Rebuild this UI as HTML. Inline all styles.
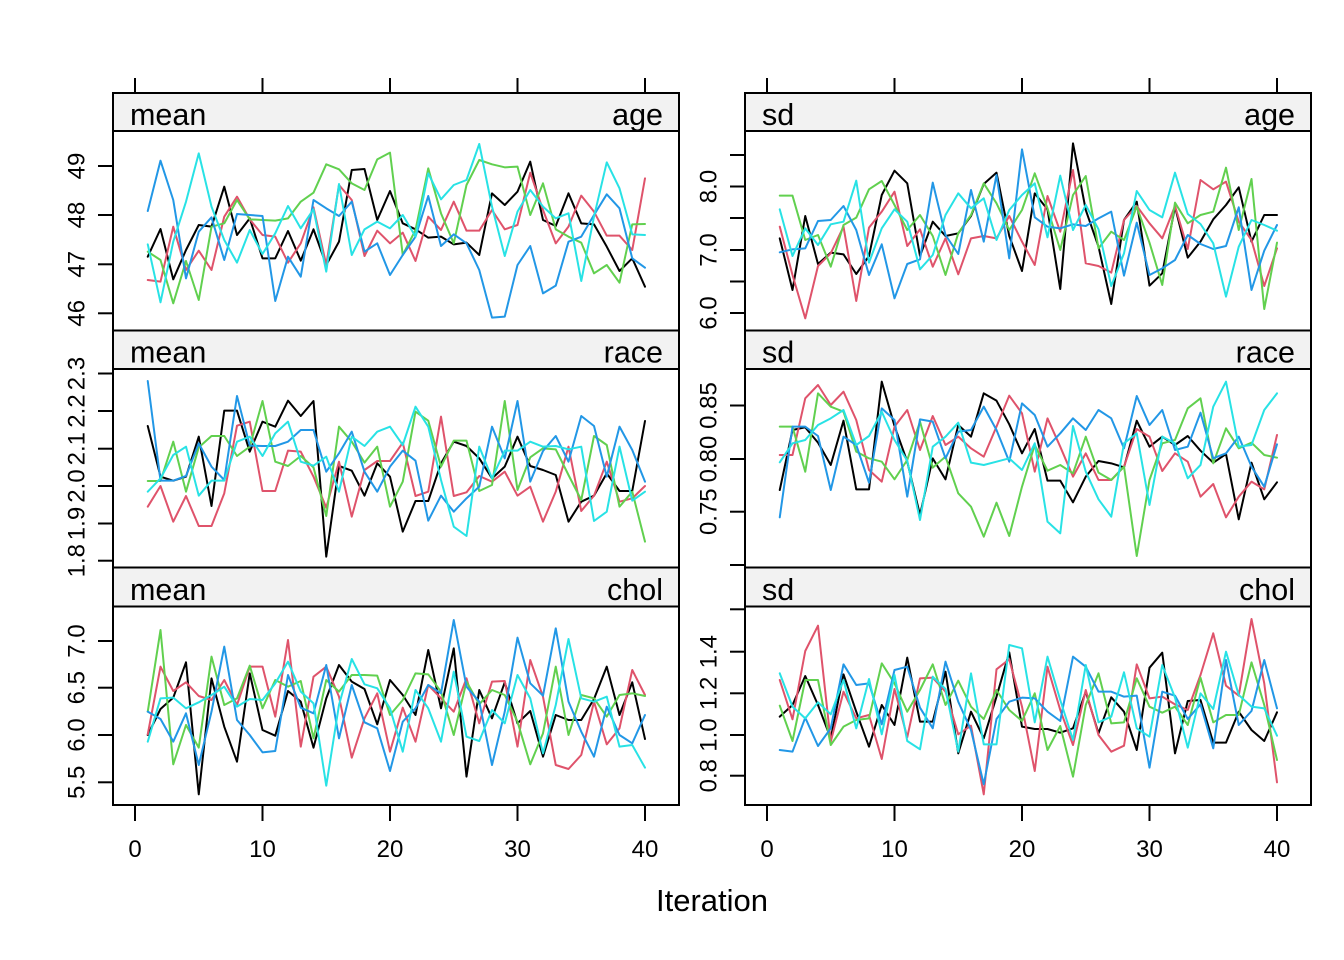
<!DOCTYPE html>
<html>
<head>
<meta charset="utf-8">
<style>
html,body{margin:0;padding:0;background:#ffffff;}
svg{display:block;}
text{font-family:"Liberation Sans",Arial,sans-serif;fill:#000;}
.s{font-size:30.5px;}
.t{font-size:24px;}
.ln{fill:none;stroke-width:2;stroke-linejoin:round;stroke-linecap:round;}
.k{stroke:#000000;}
.r{stroke:#DF536B;}
.g{stroke:#61D04F;}
.b{stroke:#2297E6;}
.c{stroke:#28E2E5;}
.fr{fill:none;stroke:#000;stroke-width:2;}
.st{fill:#F2F2F2;stroke:#000;stroke-width:2;}
.tk{stroke:#000;stroke-width:2;}
</style>
</head>
<body>
<svg width="1344" height="960" viewBox="0 0 1344 960" xmlns="http://www.w3.org/2000/svg">
<rect x="0" y="0" width="1344" height="960" fill="#fff"/>

<!-- strips -->
<rect class="st" x="113" y="93" width="566" height="38"/>
<rect class="st" x="745" y="93" width="566" height="38"/>
<rect class="st" x="113" y="330.5" width="566" height="38.5"/>
<rect class="st" x="745" y="330.5" width="566" height="38.5"/>
<rect class="st" x="113" y="567.5" width="566" height="39"/>
<rect class="st" x="745" y="567.5" width="566" height="39"/>

<text class="s" x="130" y="125">mean</text><text class="s" x="663" y="125" text-anchor="end">age</text>
<text class="s" x="762" y="125">sd</text><text class="s" x="1295" y="125" text-anchor="end">age</text>
<text class="s" x="130" y="362.5">mean</text><text class="s" x="663" y="362.5" text-anchor="end">race</text>
<text class="s" x="762" y="362.5">sd</text><text class="s" x="1295" y="362.5" text-anchor="end">race</text>
<text class="s" x="130" y="600">mean</text><text class="s" x="663" y="600" text-anchor="end">chol</text>
<text class="s" x="762" y="600">sd</text><text class="s" x="1295" y="600" text-anchor="end">chol</text>

<!-- top ticks -->
<g class="tk">
<line x1="135" y1="78" x2="135" y2="93"/><line x1="262.5" y1="78" x2="262.5" y2="93"/><line x1="390" y1="78" x2="390" y2="93"/><line x1="517.5" y1="78" x2="517.5" y2="93"/><line x1="645" y1="78" x2="645" y2="93"/>
<line x1="767" y1="78" x2="767" y2="93"/><line x1="894.5" y1="78" x2="894.5" y2="93"/><line x1="1022" y1="78" x2="1022" y2="93"/><line x1="1149.5" y1="78" x2="1149.5" y2="93"/><line x1="1277" y1="78" x2="1277" y2="93"/>
<!-- bottom ticks -->
<line x1="135" y1="805" x2="135" y2="821"/><line x1="262.5" y1="805" x2="262.5" y2="821"/><line x1="390" y1="805" x2="390" y2="821"/><line x1="517.5" y1="805" x2="517.5" y2="821"/><line x1="645" y1="805" x2="645" y2="821"/>
<line x1="767" y1="805" x2="767" y2="821"/><line x1="894.5" y1="805" x2="894.5" y2="821"/><line x1="1022" y1="805" x2="1022" y2="821"/><line x1="1149.5" y1="805" x2="1149.5" y2="821"/><line x1="1277" y1="805" x2="1277" y2="821"/>
<!-- left y ticks row1 -->
<line x1="98" y1="166" x2="113" y2="166"/><line x1="98" y1="215" x2="113" y2="215"/><line x1="98" y1="264.3" x2="113" y2="264.3"/><line x1="98" y1="313.3" x2="113" y2="313.3"/>
<!-- right y ticks row1 -->
<line x1="730" y1="155" x2="745" y2="155"/><line x1="730" y1="186.5" x2="745" y2="186.5"/><line x1="730" y1="218" x2="745" y2="218"/><line x1="730" y1="250" x2="745" y2="250"/><line x1="730" y1="281.5" x2="745" y2="281.5"/><line x1="730" y1="313" x2="745" y2="313"/>
<!-- left row2 -->
<line x1="98" y1="373.5" x2="113" y2="373.5"/><line x1="98" y1="411" x2="113" y2="411"/><line x1="98" y1="448.7" x2="113" y2="448.7"/><line x1="98" y1="486" x2="113" y2="486"/><line x1="98" y1="523.5" x2="113" y2="523.5"/><line x1="98" y1="560.7" x2="113" y2="560.7"/>
<!-- right row2 -->
<line x1="730" y1="405.5" x2="745" y2="405.5"/><line x1="730" y1="459" x2="745" y2="459"/><line x1="730" y1="511.7" x2="745" y2="511.7"/><line x1="730" y1="565" x2="745" y2="565"/>
<!-- left row3 -->
<line x1="98" y1="641" x2="113" y2="641"/><line x1="98" y1="687.7" x2="113" y2="687.7"/><line x1="98" y1="735" x2="113" y2="735"/><line x1="98" y1="782.3" x2="113" y2="782.3"/>
<!-- right row3 -->
<line x1="730" y1="609.3" x2="745" y2="609.3"/><line x1="730" y1="651.7" x2="745" y2="651.7"/><line x1="730" y1="693.3" x2="745" y2="693.3"/><line x1="730" y1="735" x2="745" y2="735"/><line x1="730" y1="775.7" x2="745" y2="775.7"/>
</g>

<!-- y tick labels -->
<g class="t" text-anchor="middle">
<text class="t" transform="translate(84.5,166) rotate(-90)">49</text>
<text class="t" transform="translate(84.5,215) rotate(-90)">48</text>
<text class="t" transform="translate(84.5,264.3) rotate(-90)">47</text>
<text class="t" transform="translate(84.5,313.3) rotate(-90)">46</text>
<text class="t" transform="translate(716.5,186.5) rotate(-90)">8.0</text>
<text class="t" transform="translate(716.5,250) rotate(-90)">7.0</text>
<text class="t" transform="translate(716.5,313) rotate(-90)">6.0</text>
<text class="t" transform="translate(84.5,373.5) rotate(-90)">2.3</text>
<text class="t" transform="translate(84.5,411) rotate(-90)">2.2</text>
<text class="t" transform="translate(84.5,448.7) rotate(-90)">2.1</text>
<text class="t" transform="translate(84.5,486) rotate(-90)">2.0</text>
<text class="t" transform="translate(84.5,523.5) rotate(-90)">1.9</text>
<text class="t" transform="translate(84.5,560.7) rotate(-90)">1.8</text>
<text class="t" transform="translate(716.5,405.5) rotate(-90)">0.85</text>
<text class="t" transform="translate(716.5,459) rotate(-90)">0.80</text>
<text class="t" transform="translate(716.5,511.7) rotate(-90)">0.75</text>
<text class="t" transform="translate(84.5,641) rotate(-90)">7.0</text>
<text class="t" transform="translate(84.5,687.7) rotate(-90)">6.5</text>
<text class="t" transform="translate(84.5,735) rotate(-90)">6.0</text>
<text class="t" transform="translate(84.5,782.3) rotate(-90)">5.5</text>
<text class="t" transform="translate(716.5,651.7) rotate(-90)">1.4</text>
<text class="t" transform="translate(716.5,693.3) rotate(-90)">1.2</text>
<text class="t" transform="translate(716.5,735) rotate(-90)">1.0</text>
<text class="t" transform="translate(716.5,775.7) rotate(-90)">0.8</text>
</g>

<!-- x tick labels -->
<g text-anchor="middle">
<text class="t" x="135" y="857" text-anchor="middle">0</text>
<text class="t" x="262.5" y="857" text-anchor="middle">10</text>
<text class="t" x="390" y="857" text-anchor="middle">20</text>
<text class="t" x="517.5" y="857" text-anchor="middle">30</text>
<text class="t" x="645" y="857" text-anchor="middle">40</text>
<text class="t" x="767" y="857" text-anchor="middle">0</text>
<text class="t" x="894.5" y="857" text-anchor="middle">10</text>
<text class="t" x="1022" y="857" text-anchor="middle">20</text>
<text class="t" x="1149.5" y="857" text-anchor="middle">30</text>
<text class="t" x="1277" y="857" text-anchor="middle">40</text>
</g>
<text x="712" y="911" text-anchor="middle" style="font-size:31px">Iteration</text>

<!-- Row 1 left: mean age -->
<g transform="translate(135,130) scale(12.75,0.333333)">
<polyline class="ln k" vector-effect="non-scaling-stroke" points="1,380 2,297 3,448 4,360 5,285 6,290 7,170 8,315 9,265 10,385 11,385 12,303 13,392 14,298 15,405 16,335 17,120 18,117 19,270 20,183 21,280 22,298 23,323 24,320 25,343 26,338 27,375 28,190 29,225 30,185 31,95 32,270 33,288 34,190 35,280 36,283 37,350 38,423 39,385 40,470"/>
<polyline class="ln r" vector-effect="non-scaling-stroke" points="1,450 2,455 3,290 4,420 5,362 6,420 7,260 8,200 9,268 10,315 11,320 12,398 13,340 14,232 15,405 16,165 17,210 18,378 19,302 20,340 21,308 22,393 23,260 24,300 25,215 26,302 27,302 28,240 29,298 30,285 31,128 32,240 33,340 34,290 35,197 36,245 37,317 38,317 39,360 40,145"/>
<polyline class="ln g" vector-effect="non-scaling-stroke" points="1,365 2,390 3,520 4,393 5,510 6,290 7,280 8,210 9,268 10,270 11,272 12,265 13,215 14,188 15,103 16,118 17,160 18,180 19,88 20,68 21,375 22,300 23,115 24,250 25,340 26,165 27,90 28,103 29,112 30,110 31,255 32,160 33,298 34,320 35,338 36,430 37,405 38,458 39,283 40,282"/>
<polyline class="ln b" vector-effect="non-scaling-stroke" points="1,243 2,92 3,210 4,445 5,305 6,262 7,390 8,252 9,255 10,258 11,513 12,380 13,440 14,210 15,235 16,258 17,215 18,365 19,340 20,435 21,375 22,320 23,198 24,348 25,313 26,340 27,420 28,563 29,560 30,405 31,348 32,490 33,467 34,335 35,320 36,255 37,193 38,235 39,385 40,413"/>
<polyline class="ln c" vector-effect="non-scaling-stroke" points="1,343 2,517 3,335 4,215 5,70 6,230 7,330 8,398 9,300 10,372 11,310 12,228 13,295 14,238 15,425 16,162 17,375 18,298 19,275 20,295 21,255 22,320 23,130 24,208 25,165 26,150 27,42 28,230 29,378 30,245 31,180 32,230 33,265 34,250 35,453 36,260 37,97 38,175 39,313 40,315"/>
</g>

<!-- Row 1 right: sd age -->
<g transform="translate(767,130) scale(12.75,0.333333)">
<polyline class="ln k" vector-effect="non-scaling-stroke" points="1,325 2,480 3,258 4,402 5,368 6,373 7,432 8,378 9,195 10,122 11,160 12,378 13,275 14,318 15,310 16,258 17,162 18,128 19,318 20,423 21,190 22,238 23,477 24,40 25,240 26,350 27,522 28,270 29,215 30,467 31,430 32,230 33,383 34,335 35,268 36,225 37,172 38,335 39,255 40,255"/>
<polyline class="ln r" vector-effect="non-scaling-stroke" points="1,290 2,435 3,565 4,408 5,370 6,290 7,513 8,293 9,245 10,185 11,348 12,298 13,410 14,325 15,433 16,325 17,318 18,325 19,258 20,335 21,405 22,198 23,305 24,120 25,400 26,408 27,428 28,270 29,228 30,280 31,325 32,228 33,357 34,150 35,178 36,155 37,275 38,330 39,468 40,355"/>
<polyline class="ln g" vector-effect="non-scaling-stroke" points="1,197 2,197 3,330 4,315 5,410 6,285 7,263 8,178 9,153 10,225 11,300 12,255 13,318 14,435 15,310 16,255 17,160 18,220 19,300 20,240 21,130 22,235 23,360 24,195 25,138 26,355 27,305 28,330 29,230 30,338 31,465 32,218 33,280 34,255 35,245 36,113 37,300 38,147 39,537 40,338"/>
<polyline class="ln b" vector-effect="non-scaling-stroke" points="1,367 2,358 3,355 4,273 5,270 6,228 7,300 8,435 9,343 10,505 11,402 12,388 13,158 14,315 15,372 16,180 17,335 18,135 19,385 20,58 21,262 22,290 23,295 24,283 25,288 26,265 27,245 28,437 29,278 30,435 31,415 32,390 33,315 34,342 35,357 36,348 37,232 38,480 39,362 40,285"/>
<polyline class="ln c" vector-effect="non-scaling-stroke" points="1,238 2,378 3,295 4,345 5,283 6,275 7,152 8,398 9,295 10,238 11,275 12,418 13,375 14,255 15,190 16,235 17,205 18,330 19,240 20,195 21,160 22,322 23,137 24,300 25,225 26,298 27,468 28,370 29,183 30,240 31,262 32,128 33,252 34,282 35,340 36,500 37,350 38,270 39,285 40,302"/>
</g>

<!-- Row 2 left: mean race -->
<g transform="translate(135,330) scale(12.75,0.333333)">
<polyline class="ln k" vector-effect="non-scaling-stroke" points="1,288 2,440 3,452 4,440 5,320 6,528 7,242 8,242 9,365 10,275 11,290 12,212 13,258 14,213 15,680 16,408 17,422 18,497 19,400 20,440 21,605 22,513 23,513 24,400 25,335 26,348 27,385 28,445 29,410 30,320 31,408 32,420 33,435 34,575 35,515 36,497 37,430 38,483 39,483 40,273"/>
<polyline class="ln r" vector-effect="non-scaling-stroke" points="1,530 2,468 3,575 4,498 5,588 6,588 7,490 8,287 9,275 10,483 11,483 12,362 13,365 14,440 15,533 16,395 17,560 18,420 19,393 20,393 21,338 22,498 23,485 24,260 25,498 26,487 27,438 28,455 29,425 30,497 31,470 32,575 33,485 34,350 35,543 36,497 37,395 38,515 39,505 40,468"/>
<polyline class="ln g" vector-effect="non-scaling-stroke" points="1,453 2,453 3,335 4,485 5,352 6,318 7,318 8,378 9,350 10,213 11,395 12,408 13,378 14,412 15,558 16,290 17,335 18,398 19,350 20,530 21,455 22,245 23,272 24,410 25,332 26,332 27,483 28,465 29,213 30,480 31,382 32,355 33,358 34,435 35,510 36,318 37,345 38,530 39,485 40,635"/>
<polyline class="ln b" vector-effect="non-scaling-stroke" points="1,153 2,452 3,452 4,438 5,340 6,410 7,450 8,198 9,347 10,348 11,348 12,335 13,300 14,300 15,425 16,370 17,305 18,425 19,485 20,410 21,362 22,392 23,572 24,497 25,545 26,505 27,470 28,290 29,385 30,213 31,455 32,363 33,318 34,395 35,258 36,288 37,440 38,290 39,360 40,455"/>
<polyline class="ln c" vector-effect="non-scaling-stroke" points="1,485 2,445 3,375 4,350 5,497 6,452 7,452 8,335 9,320 10,378 11,310 12,275 13,395 14,407 15,380 16,485 17,320 18,348 19,305 20,290 21,345 22,230 23,290 24,450 25,590 26,618 27,350 28,445 29,362 30,362 31,335 32,350 33,348 34,358 35,350 36,573 37,545 38,350 39,512 40,485"/>
</g>

<!-- Row 2 right: sd race -->
<g transform="translate(767,330) scale(12.75,0.333333)">
<polyline class="ln k" vector-effect="non-scaling-stroke" points="1,480 2,300 3,292 4,338 5,405 6,272 7,478 8,478 9,155 10,288 11,395 12,555 13,385 14,448 15,285 16,320 17,190 18,212 19,283 20,370 21,297 22,452 23,452 24,517 25,440 26,393 27,400 28,412 29,272 30,350 31,320 32,345 33,318 34,362 35,398 36,372 37,568 38,398 39,508 40,457"/>
<polyline class="ln r" vector-effect="non-scaling-stroke" points="1,375 2,375 3,205 4,165 5,225 6,185 7,270 8,420 9,455 10,290 11,240 12,360 13,258 14,345 15,320 16,355 17,380 18,290 19,197 20,250 21,425 22,265 23,350 24,440 25,370 26,450 27,450 28,410 29,297 30,320 31,423 32,370 33,395 34,500 35,462 36,562 37,500 38,455 39,478 40,315"/>
<polyline class="ln g" vector-effect="non-scaling-stroke" points="1,290 2,290 3,425 4,190 5,230 6,245 7,365 8,385 9,395 10,448 11,390 12,275 13,413 14,380 15,490 16,530 17,620 18,518 19,618 20,470 21,345 22,422 23,405 24,430 25,320 26,428 27,450 28,410 29,678 30,450 31,340 32,330 33,235 34,205 35,400 36,295 37,355 38,338 39,375 40,383"/>
<polyline class="ln b" vector-effect="non-scaling-stroke" points="1,562 2,290 3,290 4,318 5,480 6,320 7,345 8,458 9,235 10,270 11,500 12,268 13,275 14,385 15,305 16,300 17,230 18,300 19,395 20,220 21,255 22,350 23,310 24,265 25,300 26,240 27,265 28,355 29,198 30,285 31,240 32,360 33,350 34,248 35,385 36,370 37,320 38,410 39,470 40,343"/>
<polyline class="ln c" vector-effect="non-scaling-stroke" points="1,397 2,340 3,330 4,285 5,265 6,240 7,345 8,318 9,245 10,330 11,392 12,570 13,350 14,320 15,278 16,398 17,405 18,395 19,385 20,420 21,340 22,575 23,610 24,288 25,425 26,508 27,560 28,340 29,310 30,525 31,320 32,340 33,445 34,405 35,230 36,155 37,350 38,345 39,240 40,190"/>
</g>

<!-- Row 3 left: mean chol -->
<g transform="translate(135,565) scale(12.75,0.333333)">
<polyline class="ln k" vector-effect="non-scaling-stroke" points="1,510 2,432 3,398 4,292 5,688 6,340 7,485 8,590 9,325 10,495 11,512 12,378 13,410 14,548 15,400 16,300 17,350 18,372 19,478 20,345 21,390 22,450 23,255 24,430 25,250 26,635 27,375 28,460 29,352 30,475 31,438 32,575 33,450 34,465 35,465 36,402 37,305 38,450 39,352 40,522"/>
<polyline class="ln r" vector-effect="non-scaling-stroke" points="1,508 2,305 3,378 4,352 5,393 6,405 7,345 8,420 9,305 10,305 11,455 12,225 13,545 14,335 15,305 16,395 17,578 18,460 19,385 20,560 21,428 22,530 23,360 24,400 25,440 26,340 27,475 28,350 29,348 30,545 31,285 32,395 33,600 34,612 35,570 36,410 37,538 38,490 39,315 40,390"/>
<polyline class="ln g" vector-effect="non-scaling-stroke" points="1,440 2,195 3,598 4,480 5,548 6,275 7,420 8,400 9,302 10,430 11,345 12,365 13,348 14,520 15,345 16,380 17,330 18,330 19,332 20,450 21,405 22,325 23,328 24,380 25,510 26,350 27,418 28,375 29,390 30,470 31,598 32,505 33,305 34,510 35,390 36,400 37,455 38,390 39,385 40,393"/>
<polyline class="ln b" vector-effect="non-scaling-stroke" points="1,440 2,462 3,530 4,445 5,600 6,440 7,245 8,465 9,510 10,562 11,558 12,330 13,428 14,445 15,300 16,520 17,360 18,472 19,490 20,618 21,470 22,430 23,360 24,385 25,165 26,365 27,410 28,600 29,440 30,218 31,355 32,392 33,190 34,410 35,500 36,575 37,425 38,510 39,535 40,450"/>
<polyline class="ln c" vector-effect="non-scaling-stroke" points="1,530 2,400 3,398 4,430 5,412 6,390 7,365 8,425 9,402 10,405 11,355 12,290 13,380 14,415 15,662 16,420 17,282 18,358 19,370 20,430 21,560 22,375 23,430 24,530 25,320 26,515 27,528 28,435 29,475 30,330 31,400 32,565 33,420 34,222 35,400 36,410 37,395 38,545 39,540 40,608"/>
</g>

<!-- Row 3 right: sd chol -->
<g transform="translate(767,565) scale(12.75,0.333333)">
<polyline class="ln k" vector-effect="non-scaling-stroke" points="1,455 2,420 3,333 4,420 5,520 6,328 7,440 8,545 9,420 10,480 11,278 12,470 13,470 14,320 15,565 16,440 17,520 18,395 19,262 20,485 21,492 22,492 23,503 24,490 25,380 26,505 27,397 28,440 29,555 30,308 31,263 32,565 33,408 34,405 35,533 36,533 37,440 38,495 39,528 40,442"/>
<polyline class="ln r" vector-effect="non-scaling-stroke" points="1,345 2,463 3,258 4,182 5,530 6,380 7,460 8,450 9,582 10,372 11,517 12,340 13,338 14,380 15,508 16,482 17,688 18,313 19,283 20,425 21,618 22,305 23,435 24,540 25,375 26,510 27,560 28,542 29,298 30,400 31,395 32,418 33,435 34,330 35,205 36,362 37,392 38,162 39,355 40,652"/>
<polyline class="ln g" vector-effect="non-scaling-stroke" points="1,422 2,528 3,345 4,345 5,540 6,485 7,465 8,460 9,295 10,355 11,440 12,375 13,298 14,420 15,347 16,425 17,462 18,375 19,435 20,468 21,385 22,555 23,483 24,635 25,420 26,325 27,475 28,472 29,340 30,425 31,443 32,425 33,480 34,338 35,472 36,450 37,450 38,292 39,420 40,585"/>
<polyline class="ln b" vector-effect="non-scaling-stroke" points="1,555 2,560 3,458 4,543 5,490 6,298 7,360 8,355 9,478 10,315 11,305 12,428 13,490 14,290 15,410 16,495 17,658 18,462 19,410 20,398 21,400 22,440 23,468 24,275 25,305 26,380 27,380 28,395 29,392 30,608 31,380 32,392 33,462 34,418 35,550 36,285 37,480 38,438 39,285 40,430"/>
<polyline class="ln c" vector-effect="non-scaling-stroke" points="1,325 2,425 3,460 4,412 5,448 6,345 7,490 8,342 9,508 10,330 11,528 12,553 13,335 14,372 15,560 16,325 17,538 18,538 19,240 20,250 21,472 22,275 23,405 24,525 25,300 26,472 27,455 28,322 29,490 30,515 31,300 32,398 33,548 34,385 35,432 36,260 37,390 38,425 39,430 40,512"/>
</g>

<!-- panel frames -->
<rect class="fr" x="113" y="131" width="566" height="199.5"/>
<rect class="fr" x="745" y="131" width="566" height="199.5"/>
<rect class="fr" x="113" y="369" width="566" height="198.5"/>
<rect class="fr" x="745" y="369" width="566" height="198.5"/>
<rect class="fr" x="113" y="606.5" width="566" height="198.5"/>
<rect class="fr" x="745" y="606.5" width="566" height="198.5"/>
<rect class="fr" x="113" y="93" width="566" height="38"/>
<rect class="fr" x="745" y="93" width="566" height="38"/>
</svg>
</body>
</html>
